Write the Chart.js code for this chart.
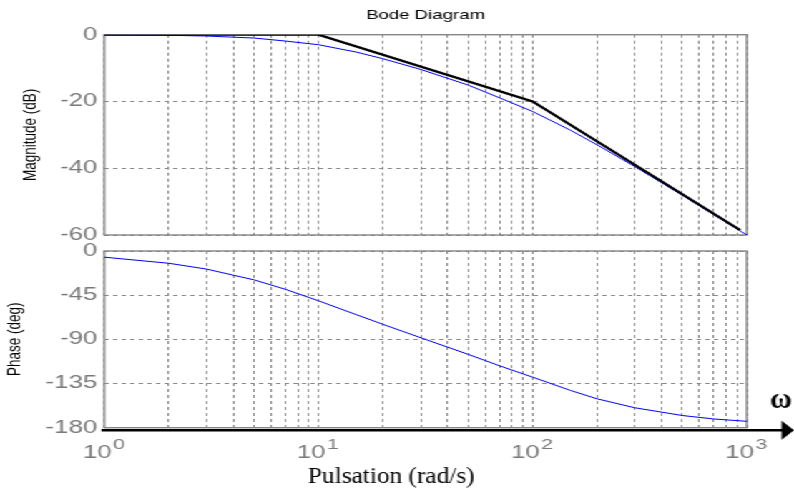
<!DOCTYPE html>
<html>
<head>
<meta charset="utf-8">
<title>Bode Diagram</title>
<script src="https://cdn.jsdelivr.net/npm/chart.js@4.4.1/dist/chart.umd.min.js"></script>
<style>
  html, body { margin: 0; padding: 0; background: #fff; overflow: hidden; }
  /* the original figure was stretched sideways, so draw narrow and stretch */
  #wrap { position: absolute; left: 0; top: 0; width: 555px; height: 490px;
          transform: scaleX(1.430631); transform-origin: 0 0; }
  #magBox { position: absolute; left: 0; top: 0; width: 555px; height: 245px; }
  #phaseBox { position: absolute; left: 0; top: 240px; width: 555px; height: 250px; }
</style>
</head>
<body>
<div id="wrap">
  <div id="magBox"><canvas id="mag" width="555" height="245"></canvas></div>
  <div id="phaseBox"><canvas id="phase" width="555" height="250"></canvas></div>
</div>
<script>
// frequencies (rad/s) the curves were read at
const freq = [1, 2, 3, 5, 7, 10, 15, 20, 30, 50, 70, 100, 150, 200, 300, 500, 700, 1000];
// real magnitude curve (dB), blue
const magActual = [-0.04, -0.17, -0.4, -1.0, -1.9, -3.0, -5.2, -7.2, -10.4, -15.1, -18.9, -23.0, -28.6, -33.0, -39.5, -48.1, -53.9, -60.0];
// asymptotic magnitude, black
const asymFreq = [1, 10, 100, 930];
const asymMag = [0, 0, -20, -58.5];
// phase curve (deg), blue
const phaseActual = [-6.3, -12.5, -18.4, -29.4, -39.0, -50.7, -64.8, -74.7, -88.3, -105.3, -116.9, -128.5, -142.0, -150.6, -159.7, -167.6, -171.1, -173.5];

const magTicks = [-60, -40, -20, 0];
const phaseTicks = [-180, -135, -90, -45, 0];
const gridFreqs = [1, 2, 3, 4, 5, 6, 7, 8, 9,
                   10, 20, 30, 40, 50, 60, 70, 80, 90,
                   100, 200, 300, 400, 500, 600, 700, 800, 900, 1000];
const decades = [1, 10, 100, 1000];
const decadeExp = ['0', '1', '2', '3'];

const S = 794 / 555;
const SANS = "'Liberation Sans', Arial, Helvetica, sans-serif";
const SERIF = "'Liberation Serif', 'Times New Roman', serif";
const GRID = '#8a8a8a';
const TICK = '#7a7a7a';

const pts = (xs, ys) => xs.map((x, i) => ({ x: x, y: ys[i] }));

function freqAxis(showLabels) {
  return {
    type: 'logarithmic',
    min: 1,
    max: 1000,
    afterBuildTicks: s => { s.ticks = gridFreqs.map(v => ({ value: v })); },
    afterFit: s => {
      s.height = showLabels ? 62.3 : 0;
      s.paddingLeft = 0;
      s.paddingRight = 0;
    },
    grid: { color: GRID, lineWidth: 1, drawTicks: false },
    border: { display: false, dash: [3, 3] },
    ticks: {
      display: showLabels,
      autoSkip: false,
      maxRotation: 0,
      padding: 15,
      color: TICK,
      font: { family: SANS, size: 18 },
      callback: v => decades.includes(v) ? '10  ' : ''
    }
  };
}

function valueAxis(min, max, tickList, title, titlePad) {
  return {
    type: 'linear',
    min: min,
    max: max,
    afterBuildTicks: s => { s.ticks = tickList.map(v => ({ value: v })); },
    afterFit: s => {
      s.width = 72.9;
      // labels may hang over the plot edges, as in the original
      s.paddingTop = 0;
      s.paddingBottom = 0;
    },
    grid: { color: GRID, lineWidth: 1, drawTicks: false },
    border: { display: false, dash: [3, 3] },
    ticks: { padding: 5, color: TICK, font: { family: SANS, size: 18 } },
    title: {
      display: true,
      text: title,
      color: '#000',
      font: { family: SANS, size: 13.5 },
      padding: { top: titlePad, bottom: 0 }
    }
  };
}

const framePlugin = {
  id: 'frame',
  beforeDatasetsDraw(chart) {
    const a = chart.chartArea, c = chart.ctx;
    c.save();
    c.strokeStyle = '#858585';
    c.lineWidth = 1.4;
    c.strokeRect(a.left, a.top, a.right - a.left, a.bottom - a.top);
    c.restore();
  }
};

const common = {
  responsive: false,
  animation: false,
  devicePixelRatio: 1,
  events: []
};

new Chart(document.getElementById('mag'), {
  type: 'line',
  data: {
    datasets: [
      { data: pts(asymFreq, asymMag), borderColor: '#000', borderWidth: 2.3, pointRadius: 0, tension: 0 },
      { data: pts(freq, magActual), borderColor: '#0000ff', borderWidth: 1, pointRadius: 0, tension: 0 }
    ]
  },
  options: {
    ...common,
    layout: { padding: { left: 0, right: 33, top: 0, bottom: 10 } },
    scales: {
      x: freqAxis(false),
      y: valueAxis(-60, 0, magTicks, 'Magnitude (dB)', 13.6)
    },
    plugins: {
      legend: { display: false },
      tooltip: { enabled: false },
      title: {
        display: true,
        fullSize: false,
        text: 'Bode Diagram',
        color: '#000',
        font: { family: SANS, size: 13, weight: 'normal' },
        padding: { top: 8, bottom: 11.1 }
      }
    }
  },
  plugins: [framePlugin]
});

const phaseExtras = {
  id: 'phaseExtras',
  afterDraw(chart) {
    const ctx = chart.ctx, a = chart.chartArea, xs = chart.scales.x;
    ctx.save();
    // black frequency axis with arrow
    const yA = a.bottom + 2.6;
    ctx.strokeStyle = '#000';
    ctx.lineWidth = 2.4;
    ctx.beginPath();
    ctx.moveTo(a.left - 2, yA);
    ctx.lineTo(547, yA);
    ctx.stroke();
    ctx.fillStyle = '#000';
    ctx.beginPath();
    ctx.moveTo(546.4, yA - 9.5);
    ctx.lineTo(555, yA);
    ctx.lineTo(546.4, yA + 9.5);
    ctx.closePath();
    ctx.fill();

    // exponents of the decade labels
    ctx.font = '15px ' + SANS;
    ctx.fillStyle = TICK;
    ctx.textAlign = 'left';
    ctx.textBaseline = 'alphabetic';
    decades.forEach((v, i) => {
      ctx.fillText(decadeExp[i], xs.getPixelForValue(v) + 6, a.bottom + 20.8);
    });

    // unstretched annotations
    ctx.fillStyle = '#000';
    ctx.save();
    ctx.translate(781 / S, 168);
    ctx.scale(1 / S, 1);
    ctx.font = 'bold 30px ' + SERIF;
    ctx.textAlign = 'center';
    ctx.fillText('ω', 0, 0);
    ctx.restore();

    ctx.save();
    ctx.translate(308 / S, 243);
    ctx.scale(1.1 / S, 1);
    ctx.font = '23px ' + SERIF;
    ctx.textAlign = 'left';
    ctx.fillText('Pulsation (rad/s)', 0, 0);
    ctx.restore();

    ctx.restore();
  }
};

new Chart(document.getElementById('phase'), {
  type: 'line',
  data: {
    datasets: [
      { data: pts(freq, phaseActual), borderColor: '#0000ff', borderWidth: 1, pointRadius: 0, tension: 0 }
    ]
  },
  options: {
    ...common,
    layout: { padding: { left: 0, right: 33, top: 11, bottom: 0 } },
    scales: {
      x: freqAxis(true),
      y: valueAxis(-180, 0, phaseTicks, 'Phase (deg)', 2.4)
    },
    plugins: {
      legend: { display: false },
      tooltip: { enabled: false },
      title: { display: false }
    }
  },
  plugins: [framePlugin, phaseExtras]
});
</script>
</body>
</html>
